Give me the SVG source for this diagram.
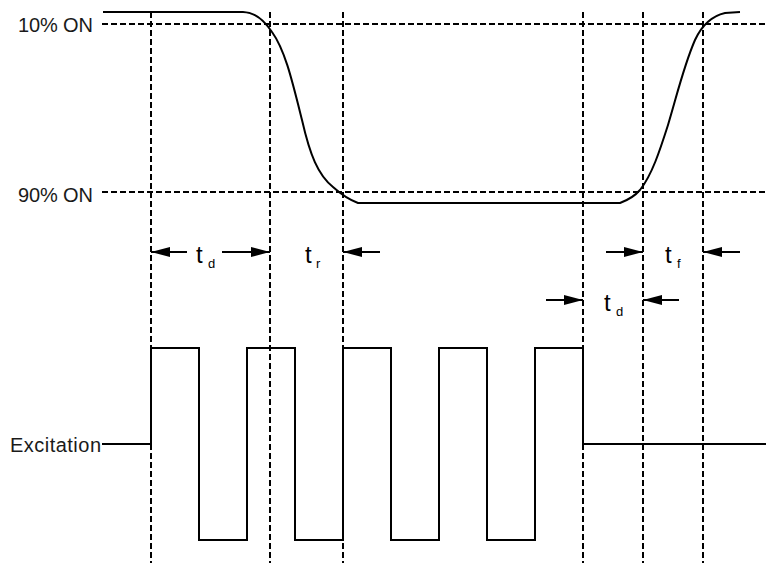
<svg xmlns="http://www.w3.org/2000/svg" width="766" height="563" viewBox="0 0 766 563">
<style>
.grid{stroke:#000;stroke-width:2;stroke-dasharray:6 3;fill:none}
.sig{stroke:#000;stroke-width:2;fill:none;stroke-linejoin:miter}
.arr{stroke:#000;stroke-width:2;fill:none;marker-end:url(#ah)}
.lbl{font-family:"Liberation Sans",Arial,sans-serif;font-size:20px;fill:#1a1a1a}
.t{font-family:"Liberation Sans",Arial,sans-serif;font-size:24px;fill:#000}
.sub{font-family:"Liberation Sans",Arial,sans-serif;font-size:13px;fill:#000}
</style>
<defs>
<marker id="ah" markerUnits="userSpaceOnUse" markerWidth="19" markerHeight="11" refX="19" refY="5.5" orient="auto">
<path d="M0,0.5 L19,5.5 L0,10.5 z" fill="#000"/>
</marker>
</defs>
<rect width="766" height="563" fill="#fff"/>
<g id="gridlines">
<line class="grid" x1="102" y1="24" x2="766" y2="24"/>
<line class="grid" x1="102" y1="192" x2="766" y2="192"/>
<line class="grid" x1="151" y1="12" x2="151" y2="563"/>
<line class="grid" x1="270" y1="12" x2="270" y2="563"/>
<line class="grid" x1="343" y1="12" x2="343" y2="563"/>
<line class="grid" x1="583" y1="12" x2="583" y2="563"/>
<line class="grid" x1="643" y1="12" x2="643" y2="563"/>
<line class="grid" x1="703" y1="12" x2="703" y2="563"/>
</g>
<g id="labels">
<text class="lbl" x="18" y="32" textLength="75">10% ON</text>
<text class="lbl" x="18" y="202" textLength="75">90% ON</text>
<text class="lbl" x="10" y="452" textLength="91">Excitation</text>
</g>
<g id="response">
<path class="sig" d="M103,12 H243 C255,12 264,20 272,32 C285,50 292,80 302,120 C310,155 318,175 333,187 C343,196 350,200 358,203 H620 C628,200 634,197 640,190 C652,175 660,150 668,125 C677,95 684,65 695,40 C702,25 712,16 725,13 L740,12"/>
</g>
<g id="excitation">
<path class="sig" d="M102,444 H151 V348 H199 V540 H247 V348 H295 V540 H343 V348 H391 V540 H439 V348 H487 V540 H535 V348 H583 V444 H766"/>
</g>
<g id="connectors">
<line class="arr" x1="187" y1="252" x2="151" y2="252"/>
<line class="arr" x1="222" y1="252" x2="270" y2="252"/>
<line class="arr" x1="380" y1="252" x2="343" y2="252"/>
<line class="arr" x1="606" y1="252" x2="643" y2="252"/>
<line class="arr" x1="740" y1="252" x2="703" y2="252"/>
<line class="arr" x1="546" y1="300" x2="583" y2="300"/>
<line class="arr" x1="679" y1="300" x2="643" y2="300"/>
</g>
<g id="td1"><text class="t" x="196" y="263">t</text><text class="sub" x="208" y="268">d</text></g>
<g id="tr"><text class="t" x="305" y="263">t</text><text class="sub" x="316" y="268">r</text></g>
<g id="tf"><text class="t" x="665" y="263">t</text><text class="sub" x="677" y="268">f</text></g>
<g id="td2"><text class="t" x="604" y="311">t</text><text class="sub" x="616" y="316">d</text></g>
</svg>
